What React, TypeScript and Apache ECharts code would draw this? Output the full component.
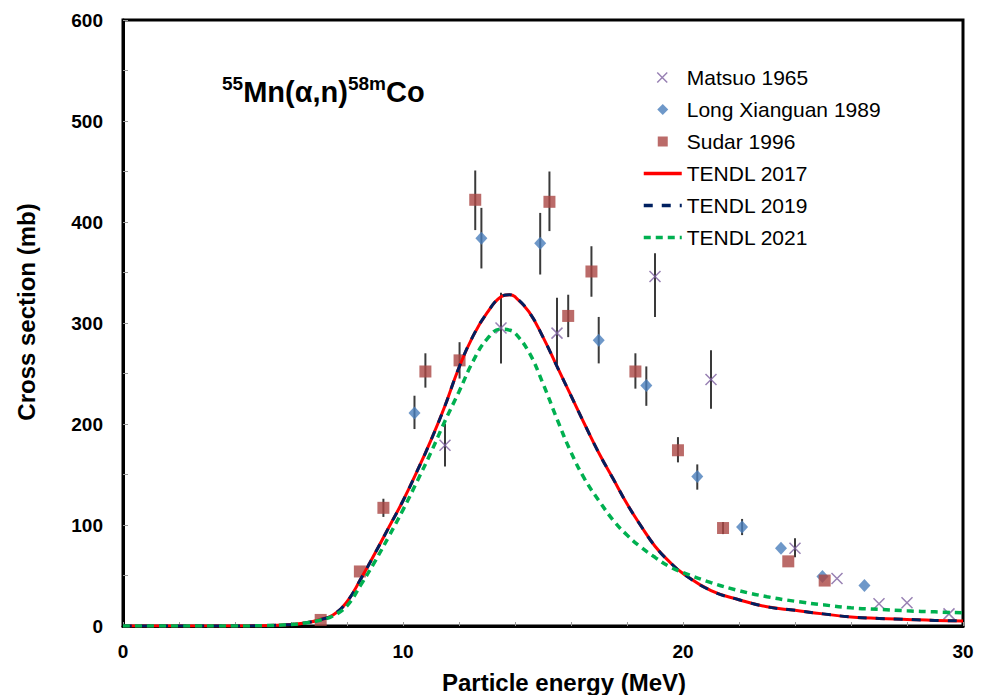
import React, { useEffect, useRef } from "react";
import * as echarts from "echarts";

const FONT = "Liberation Sans, Arial, Helvetica, sans-serif";

// Experimental data [energy MeV, cross section mb]
const matsuo1965 = [
  [11.5, 179], [13.5, 295], [15.5, 290], [19.0, 346], [21.0, 244],
  [24.0, 77], [25.5, 47], [27.0, 22], [28.0, 23], [29.5, 12],
];
const matsuoErr = [
  [11.5, 158, 200], [13.5, 260, 330], [15.5, 255, 325], [19.0, 306, 369],
  [21.0, 215, 273], [24.0, 68, 87],
];
const longXianguan1989 = [
  [10.41, 211], [12.8, 384], [14.9, 379], [16.99, 283], [18.69, 238],
  [20.51, 148], [22.11, 98], [23.5, 77], [24.98, 49], [26.48, 40],
];
const longErr = [
  [10.41, 195, 228], [12.8, 354, 414], [14.9, 348, 409], [16.99, 260, 306],
  [18.69, 218, 257], [20.51, 135, 160], [22.11, 90, 106],
];
const sudar1996 = [
  [7.06, 6], [8.46, 54], [9.3, 117], [10.8, 252], [12.02, 263], [12.58, 422],
  [15.23, 420], [15.9, 307], [16.73, 351], [18.3, 252], [19.82, 174],
  [21.43, 97], [23.76, 64], [25.06, 45],
];
const sudarErr = [
  [9.3, 108, 126], [10.8, 236, 270], [12.02, 245, 281], [12.58, 392, 451],
  [15.23, 391, 450], [15.9, 286, 328], [16.73, 326, 376], [18.3, 235, 270],
  [19.82, 162, 187], [21.43, 91, 103],
];

// Evaluated curves
const energies = [
  0, 2, 4, 5, 6, 6.5, 7, 7.5, 8, 8.5, 9, 9.5, 10, 10.5, 11, 11.5, 12, 12.5, 13,
  13.5, 13.8, 14, 14.5, 15, 15.5, 16, 16.5, 17, 17.5, 18, 18.5, 19, 19.5, 20,
  21, 22, 23, 24, 25, 26, 27, 28, 29, 30,
];
const tendl2017 = [
  0, 0, 0, 0.3, 1.5, 3, 6, 11, 24, 47, 72, 98, 124, 153, 184, 218, 256, 287, 310,
  326, 328, 326, 311, 286, 257, 228, 199, 171, 146, 121, 99, 79, 64, 52,
  35, 26, 19, 15.5, 12, 9, 7.5, 6.5, 5.5, 5,
];
const tendl2019 = [
  0, 0, 0, 0.3, 1.5, 3, 6, 11, 24, 47, 72, 98, 124, 153, 184, 218, 256, 287, 310,
  326, 328, 326, 311, 286, 257, 228, 199, 171, 146, 121, 99, 79, 64, 52,
  35, 26, 19, 15.5, 12, 9, 7.5, 6.5, 5.5, 5,
];
const tendl2021 = [
  0, 0, 0, 0.3, 1.5, 3, 5.5, 10, 20, 41, 64, 89, 115, 143, 172, 203, 232, 262, 284,
  294, 293, 290, 271, 240, 205, 172, 145, 124, 105, 90, 78, 68, 59, 53,
  43, 35, 29, 24.5, 21, 18, 16.5, 15, 14, 13,
];

const xTickLabels = [0, 10, 20, 30];
const yTickLabels = [0, 100, 200, 300, 400, 500, 600];

const pair = (vals: number[]) => energies.map((e, i) => [e, vals[i]]);

const errSeries = (name: string, data: number[][]) => ({
  type: "custom",
  name,
  data,
  silent: true,
  encode: { x: 0, y: [1, 2] },
  renderItem: (_p: any, api: any) => {
    const a = api.coord([api.value(0), api.value(1)]);
    const b = api.coord([api.value(0), api.value(2)]);
    return {
      type: "line",
      shape: { x1: a[0], y1: a[1], x2: b[0], y2: b[1] },
      style: { stroke: "#3a3a3a", lineWidth: 2 },
    };
  },
});

const XSYM = "path://M0,0L10,10M10,0L0,10";
// legend icons padded to the 38x11 legend box so they keep their aspect
const X_ICON = "path://M0,0M38,11M13.5,0.5L23.5,10.5M23.5,0.5L13.5,10.5";
const DIAMOND_ICON = "path://M0,0M38,11M13.5,5.5L19,0L24.5,5.5L19,11Z";
const RECT_ICON = "path://M0,0M38,11M14,0.5H24V10.5H14Z";
const noDot = { color: "rgba(0,0,0,0)", borderWidth: 0 };

export default function App() {
  const ref = useRef<HTMLDivElement>(null);
  useEffect(() => {
    const chart = echarts.init(ref.current!, null, { renderer: "svg" });
    const option: any = {
      animation: false,
      backgroundColor: "#fff",
      textStyle: { fontFamily: FONT },
      grid: {
        left: 123, right: 26, top: 20, bottom: 69,
        show: true, borderColor: "#000", borderWidth: 3,
      },
      legend: {
        left: 637, top: 62, orient: "vertical",
        itemWidth: 38, itemHeight: 11, itemGap: 11,
        textStyle: { fontSize: 21, color: "#000", lineHeight: 21, fontFamily: FONT },
        data: [
          { name: "Matsuo 1965", icon: X_ICON, itemStyle: { borderWidth: 1.5 } },
          { name: "Long Xianguan 1989", icon: DIAMOND_ICON },
          { name: "Sudar 1996", icon: RECT_ICON },
          { name: "TENDL 2017", itemStyle: noDot, lineStyle: { width: 3.5 } },
          { name: "TENDL 2019", itemStyle: noDot, lineStyle: { width: 3.5 } },
          { name: "TENDL 2021", itemStyle: noDot, lineStyle: { width: 3.5 } },
        ],
      },
      xAxis: {
        type: "value", min: 0, max: 30, interval: 2,
        axisLine: { show: true, onZero: false, lineStyle: { color: "#000", width: 3 } },
        axisTick: { show: true, inside: true, length: 4, lineStyle: { color: "#999", width: 1 } },
        splitLine: { show: false },
        axisLabel: {
          fontSize: 19, fontWeight: "bold", color: "#000", margin: 16, fontFamily: FONT,
          formatter: (v: number) => (xTickLabels.includes(v) ? String(v) : ""),
        },
      },
      yAxis: {
        type: "value", min: 0, max: 600, interval: 50,
        axisLine: { show: true, lineStyle: { color: "#000", width: 3 } },
        axisTick: { show: true, inside: true, length: 5, lineStyle: { color: "#999", width: 1 } },
        splitLine: { show: false },
        axisLabel: {
          fontSize: 19, fontWeight: "bold", color: "#000", margin: 20, fontFamily: FONT,
          formatter: (v: number) => (yTickLabels.includes(v) ? String(v) : ""),
        },
      },
      graphic: [
        {
          type: "text", x: 222, y: 74, z: 10,
          style: {
            text: "{s|55}{b|Mn(α,n)}{s|58m}{b|Co}",
            verticalAlign: "top",
            rich: {
              b: { fontSize: 29, fontWeight: "bold", lineHeight: 32, fontFamily: FONT, fill: "#000", verticalAlign: "bottom" },
              s: { fontSize: 19, fontWeight: "bold", lineHeight: 22, fontFamily: FONT, fill: "#000", verticalAlign: "top" },
            },
          },
        },
        {
          type: "text", x: 564, y: 682, z: 10,
          style: {
            text: "Particle energy (MeV)", fontSize: 24, fontWeight: "bold",
            fontFamily: FONT, fill: "#000", align: "center", verticalAlign: "middle",
          },
        },
        {
          type: "text", x: 26, y: 312, rotation: Math.PI / 2, z: 10,
          style: {
            text: "Cross section (mb)", fontSize: 24, fontWeight: "bold",
            fontFamily: FONT, fill: "#000", align: "center", verticalAlign: "middle",
          },
        },
      ],
      series: [
        {
          type: "line", name: "TENDL 2017", data: pair(tendl2017),
          symbol: "none", smooth: 0.45,
          lineStyle: { color: "#FF0000", width: 3 }, itemStyle: { color: "#FF0000" },
        },
        {
          type: "line", name: "TENDL 2019", data: pair(tendl2019),
          symbol: "none", smooth: 0.45,
          lineStyle: { color: "#002060", width: 3, type: [9, 9] }, itemStyle: { color: "#002060" },
        },
        {
          type: "line", name: "TENDL 2021", data: pair(tendl2021),
          symbol: "none", smooth: 0.45,
          lineStyle: { color: "#00B050", width: 3.5, type: [7, 5] }, itemStyle: { color: "#00B050" },
        },
        errSeries("err-matsuo", matsuoErr),
        errSeries("err-long", longErr),
        errSeries("err-sudar", sudarErr),
        {
          type: "scatter", name: "Matsuo 1965", data: matsuo1965,
          symbol: XSYM, symbolSize: 11,
          itemStyle: { color: "rgba(0,0,0,0)", borderColor: "#7E62A0", borderWidth: 1.5 },
        },
        {
          type: "scatter", name: "Long Xianguan 1989", data: longXianguan1989,
          symbol: "diamond", symbolSize: [12, 13],
          itemStyle: { color: "#4A7EBB" },
        },
        {
          type: "scatter", name: "Sudar 1996", data: sudar1996,
          symbol: "rect", symbolSize: 12,
          itemStyle: { color: "#AA4643" },
        },
      ],
    };
    chart.setOption(option);
    return () => chart.dispose();
  }, []);
  return (
    <div
      ref={ref}
      style={{ position: "fixed", left: 0, top: 0, width: 989, height: 695, background: "#fff" }}
    />
  );
}
